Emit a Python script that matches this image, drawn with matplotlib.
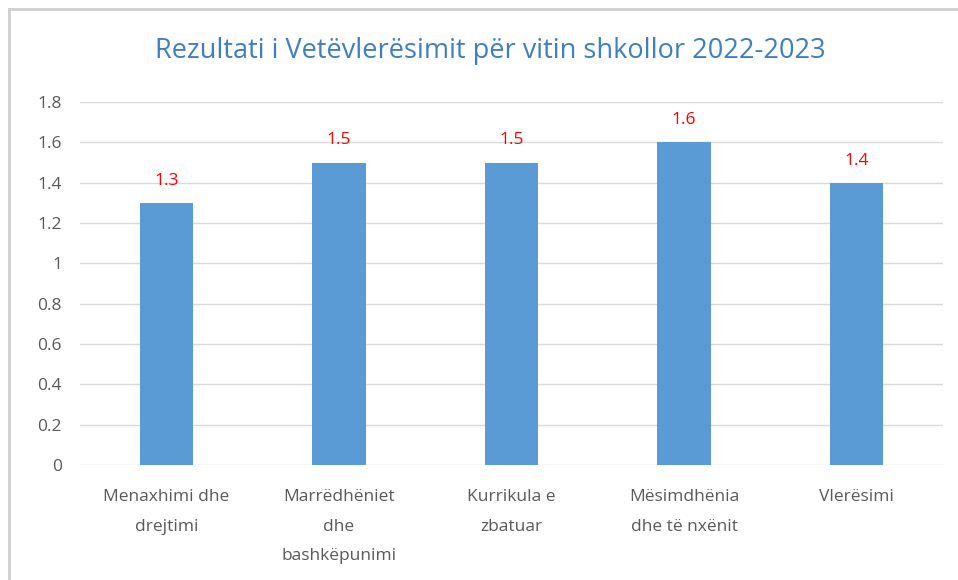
import numpy as np
import matplotlib.pyplot as plt
from matplotlib.lines import Line2D

# données
categories = ["Menaxhimi dhe\ndrejtimi", "Marrëdhëniet\ndhe\nbashkëpunimi",
              "Kurrikula e\nzbatuar", "Mësimdhënia\ndhe të nxënit", "Vlerësimi"]
values = [1.3, 1.5, 1.5, 1.6, 1.4]
yticks = [0, 0.2, 0.4, 0.6, 0.8, 1, 1.2, 1.4, 1.6, 1.8]
ytick_labels = ["0", "0.2", "0.4", "0.6", "0.8", "1", "1.2", "1.4", "1.6", "1.8"]

plt.rcParams['font.family'] = ['Open Sans', 'DejaVu Sans']

fig = plt.figure(figsize=(9.58, 5.8), dpi=100)
ax = fig.add_axes([0.0835, 0.198, 0.9008, 0.626])

x = np.arange(len(categories))
ax.bar(x, values, width=0.31, color='#5b9bd5', zorder=3)

for xi, v in zip(x, values):
    ax.annotate(f"{v}", (xi, v), xytext=(0, 16), textcoords='offset points',
                ha='center', va='center', color='#ff0000', fontsize=12.5)

ax.set_xlim(-0.5, len(categories) - 0.5)
ax.set_ylim(0, 1.8)
ax.set_yticks(yticks)
ax.set_yticklabels(ytick_labels)
ax.set_xticks(x)
ax.set_xticklabels(categories, linespacing=2.15)
ax.tick_params(axis='y', length=0, pad=13, labelsize=12.5, labelcolor='#595959')
ax.tick_params(axis='x', length=0, pad=17, labelsize=12.5, labelcolor='#595959')
ax.grid(axis='y', color='#d9d9d9', linewidth=1, zorder=0)
for s in ax.spines.values():
    s.set_visible(False)

fig.text(0.512, 0.912, "Rezultati i Vetëvlerësimit për vitin shkollor 2022-2023",
         ha='center', va='center', color='#3d7fc1', fontsize=19.5)

# cadre
fig.add_artist(Line2D([0.0094, 1], [0.984, 0.984], color='#cfcfcf', linewidth=2))
fig.add_artist(Line2D([0.0094, 0.0094], [0, 0.984], color='#cfcfcf', linewidth=2))

fig.savefig('out.png', dpi=100)
